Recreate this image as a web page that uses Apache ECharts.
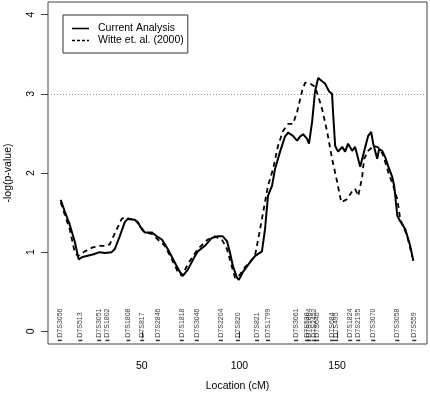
<!DOCTYPE html>
<html>
<head>
<meta charset="utf-8">
<script src="https://cdn.jsdelivr.net/npm/echarts@6/dist/echarts.min.js"></script>
<style>
html,body{margin:0;padding:0;background:#fff;}
#charts{width:430px;height:396px;}
</style>
</head>
<body>
<div id="charts"></div>
<script>
// Current Analysis curve (cM, -log p)
var curX = [8.5,10.5,13.1,15.6,17.7,19.7,24.9,28.5,31.0,34.6,36.2,38.7,41.3,42.8,46.4,47.9,50.0,51.5,55.1,57.7,
	60.3,63.3,66.9,69.5,71.0,73.6,77.2,78.7,82.3,85.9,89.0,91.5,93.6,95.1,96.7,98.7,99.7,101.8,105.4,107.9,
	111.5,113.1,114.6,116.7,118.2,120.8,123.3,124.9,127.4,129.5,131.0,132.6,134.6,135.6,137.2,138.7,140.3,142.3,143.8,145.9,
	147.4,147.9,149.0,150.5,152.6,154.1,155.6,157.7,159.2,161.8,164.4,165.9,167.4,168.5,170.5,171.5,173.1,174.6,176.2,178.2,
	179.2,180.8,182.3,184.9,187.4,189.0];
var curY = [1.66,1.52,1.35,1.14,0.91,0.94,0.97,1.00,0.99,1.00,1.04,1.20,1.38,1.42,1.41,1.38,1.29,1.25,1.25,1.20,
	1.16,1.04,0.87,0.75,0.70,0.78,0.95,1.01,1.08,1.18,1.20,1.20,1.14,1.00,0.82,0.68,0.65,0.75,0.87,0.95,
	1.01,1.29,1.71,1.84,2.05,2.27,2.46,2.51,2.47,2.41,2.46,2.49,2.43,2.37,2.65,3.03,3.20,3.16,3.13,3.03,
	3.00,2.77,2.34,2.27,2.33,2.27,2.37,2.28,2.33,2.08,2.33,2.47,2.52,2.37,2.18,2.30,2.28,2.20,2.08,1.95,
	1.84,1.46,1.39,1.29,1.08,0.89];
// Witte et. al. (2000) curve
var witX = [8.5,10.5,13.1,15.6,17.2,20.8,24.9,28.5,32.1,33.6,37.2,39.7,41.3,43.8,46.4,49.0,51.5,55.1,58.2,61.8,
	65.4,68.5,70.5,73.6,78.7,83.8,87.4,91.0,93.6,96.2,97.7,99.2,102.8,107.9,109.5,112.1,114.6,117.2,119.7,122.3,
	124.9,127.4,129.5,132.1,133.6,136.2,138.7,140.3,142.3,144.9,147.4,150.0,152.1,155.1,157.7,159.2,160.8,162.8,163.8,165.9,
	168.5,170.5,172.1,173.6,176.2,178.7,180.8,182.3,185.9,188.5];
var witY = [1.63,1.48,1.29,1.01,0.95,1.01,1.06,1.08,1.08,1.10,1.29,1.42,1.44,1.42,1.41,1.34,1.25,1.23,1.16,1.08,
	0.91,0.75,0.70,0.85,1.04,1.16,1.20,1.16,1.04,0.81,0.68,0.68,0.81,0.95,1.15,1.50,1.84,2.05,2.34,2.53,
	2.62,2.62,2.77,3.04,3.14,3.13,3.09,2.97,2.81,2.52,2.18,1.89,1.63,1.67,1.77,1.80,1.71,1.95,2.18,2.28,
	2.34,2.33,2.30,2.22,2.01,1.84,1.67,1.42,1.20,0.94];
// markers along the bottom
var markerNames = ['D7S3056','D7S513','D7S3051','D7S1802','D7S1808','D7S817','D7S2846','D7S1818','D7S3046','D7S2204',
	'D7S820','D7S821','D7S1799','D7S3061','D7S530','D7S1804','D7S2452','D7S640','D7S684','D7S495',
	'D7S1824','D7S2195','D7S3070','D7S3058','D7S559'];
var markerPos = [8.0,18.6,28.2,32.4,43.2,50.2,58.2,70.5,78.2,90.5,
	99.2,109.0,114.6,129.0,134.6,135.8,138.2,139.7,147.4,149.5,
	156.7,160.8,168.5,180.8,189.5];
var xTicks = [50,100,150];
var yTicks = [0,1,2,3,4];
var threshold = 3;

function pairs(xs, ys){
	var out = [];
	for(var i=0;i<xs.length;i++){
		out.push([xs[i], ys[i]]);
	}
	return out;
}

var font = 'Liberation Sans, Arial, sans-serif';
//图例线段：实线与虚线
var solidIcon = 'path://M0,0h17v1.6h-17z';
var dashIcon = 'path://M0,0h3v1.6h-3z M5,0h3v1.6h-3z M10,0h3v1.6h-3z M15,0h2v1.6h-2z';
var charts = echarts.init(document.getElementById('charts'), null, {renderer:'canvas'});
var option = {
	animation:false,
	grid:{
		left:48,
		right:3,
		top:2,
		bottom:52,
		outerBoundsMode:'none',
		show:true,
		borderColor:'#444',
		borderWidth:1
	},
	legend:{
		orient:'vertical',
		left:63,
		top:15,
		padding:[8,4,7,9],
		itemWidth:17,
		itemHeight:1.6,
		itemGap:1,
		borderColor:'#333',
		borderWidth:1,
		borderRadius:0,
		selectedMode:false,
		textStyle:{fontSize:10.5, fontFamily:font, color:'#000', padding:[0,0,0,4]},
		data:[{name:'Current Analysis', icon:solidIcon, itemStyle:{color:'#000'}},
			{name:'Witte et. al. (2000)', icon:dashIcon, itemStyle:{color:'#000'}}]
	},
	xAxis:{
		type:'value',
		min:2,
		max:196,
		name:'Location (cM)',
		nameLocation:'middle',
		nameGap:37,
		nameTextStyle:{fontSize:10.5, fontFamily:font, color:'#000'},
		axisLine:{show:false},
		axisTick:{show:true, length:7, customValues:xTicks, lineStyle:{color:'#444'}},
		axisLabel:{customValues:xTicks, margin:17, fontSize:10.5, fontFamily:font, color:'#000'},
		splitLine:{show:false}
	},
	yAxis:{
		type:'value',
		min:-0.16,
		max:4.16,
		name:'-log(p-value)',
		nameLocation:'middle',
		nameGap:34,
		nameTextStyle:{fontSize:10.5, fontFamily:font, color:'#000'},
		axisLine:{show:false},
		axisTick:{show:true, length:7, customValues:yTicks, lineStyle:{color:'#444'}},
		axisLabel:{customValues:yTicks, rotate:90, margin:11, fontSize:10.5, fontFamily:font, color:'#000'},
		splitLine:{show:false}
	},
	series:[{
		name:'Current Analysis',
		type:'line',
		data:pairs(curX, curY),
		symbol:'none',
		color:'#000',
		lineStyle:{color:'#000', width:2},
		markLine:{
			silent:true,
			symbol:'none',
			label:{show:false},
			lineStyle:{color:'#999', type:[1,2], width:1},
			data:[{yAxis:threshold}]
		}
	},{
		name:'Witte et. al. (2000)',
		type:'line',
		data:pairs(witX, witY),
		symbol:'none',
		color:'#000',
		lineStyle:{color:'#000', width:1.8, type:[5,4]}
	},{
		name:'markers',
		type:'scatter',
		symbol:'rect',
		symbolSize:[4,1.5],
		itemStyle:{color:'#000'},
		data:markerNames.map(function(n,i){ return {name:n, value:[markerPos[i], -0.115]}; }),
		label:{
			show:true,
			formatter:'{b}',
			position:'top',
			distance:2,
			rotate:90,
			align:'left',
			verticalAlign:'middle',
			fontSize:7,
			fontFamily:font,
			color:'#000'
		}
	}]
};
charts.setOption(option);
</script>
</body>
</html>
